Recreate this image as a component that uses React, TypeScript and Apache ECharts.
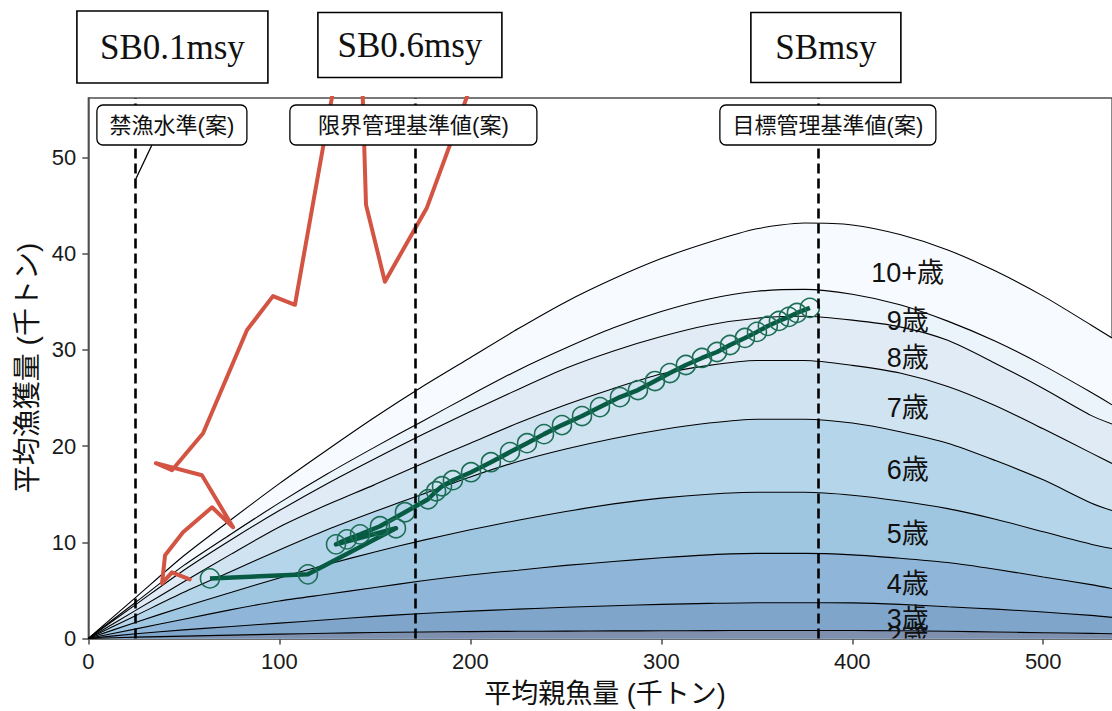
import React, { useEffect, useRef } from 'react';
import * as echarts from 'echarts';

// ---- data ----
const SB_GRID = [0, 25, 50, 75, 100, 125, 150, 175, 200, 225, 250, 275, 300, 325, 350, 375, 400, 425, 450, 475, 500, 525, 536];
// cumulative catch (top boundary of each age band)
const CUM_10PLUS = [0, 4.3, 8.6, 12.4, 16.1, 19.6, 23.0, 26.2, 29.2, 32.2, 35.0, 37.4, 39.5, 41.2, 42.6, 43.2, 43.0, 42.0, 40.4, 38.2, 35.6, 32.6, 31.25];
const CUM_9 = [0, 3.8, 7.6, 10.9, 14.1, 17.1, 19.9, 22.6, 25.3, 27.9, 30.2, 32.3, 34.0, 35.3, 36.1, 36.3, 35.8, 34.7, 33.0, 30.9, 28.4, 25.6, 24.3];
const CUM_8 = [0, 3.55, 7.1, 10.3, 13.3, 16.1, 18.7, 21.2, 23.6, 25.9, 28.1, 29.9, 31.4, 32.6, 33.3, 33.5, 33.1, 32.4, 31.0, 28.6, 26.0, 23.2, 22.3];
const CUM_7 = [0, 2.95, 5.9, 8.8, 11.6, 13.9, 16.0, 18.2, 20.3, 22.4, 24.3, 26.0, 27.5, 28.4, 28.9, 28.9, 28.4, 27.6, 26.2, 24.2, 21.8, 19.3, 18.2];
const CUM_6 = [0, 2.4, 4.8, 7.0, 9.2, 11.3, 13.2, 15.0, 16.8, 18.4, 19.7, 20.8, 21.7, 22.4, 22.8, 22.8, 22.4, 21.5, 20.3, 18.5, 16.5, 14.1, 13.3];
const CUM_5 = [0, 1.7, 3.3, 4.8, 6.3, 7.7, 9.0, 10.2, 11.3, 12.3, 13.2, 14.0, 14.6, 15.0, 15.2, 15.2, 14.9, 14.3, 13.5, 12.4, 11.1, 9.8, 9.35];
const CUM_4 = [0, 1.0, 2.0, 3.0, 3.9, 4.6, 5.3, 6.0, 6.6, 7.1, 7.6, 8.0, 8.4, 8.7, 8.85, 8.85, 8.7, 8.35, 7.9, 7.2, 6.4, 5.6, 5.2];
const CUM_3 = [0, 0.5, 0.9, 1.25, 1.6, 1.95, 2.3, 2.6, 2.85, 3.05, 3.25, 3.4, 3.55, 3.65, 3.72, 3.72, 3.7, 3.55, 3.3, 3.05, 2.75, 2.4, 2.2];
const CUM_2 = [0, 0.14, 0.25, 0.35, 0.45, 0.54, 0.62, 0.68, 0.72, 0.75, 0.77, 0.79, 0.8, 0.82, 0.83, 0.83, 0.83, 0.8, 0.75, 0.68, 0.6, 0.53, 0.5];
const AGE_NAMES = ['10+歳', '9歳', '8歳', '7歳', '6歳', '5歳', '4歳', '3歳', '2歳'];
const AGE_CUMS = [CUM_10PLUS, CUM_9, CUM_8, CUM_7, CUM_6, CUM_5, CUM_4, CUM_3, CUM_2];

// age label anchor (SB, catch)
const AGE_LABEL_SB = 429;
const AGE_LABEL_CATCH = [38.0, 33.0, 29.2, 24.0, 17.5, 10.9, 5.7, 2.05, 0.3];

// reference points
const SB_LIMIT_BAN = 24.4; // SB0.1msy
const SB_LIMIT = 171; // SB0.6msy
const SB_TARGET = 382; // SBmsy
const REF_NAMES = ['SB0.1msy', 'SB0.6msy', 'SBmsy'];
const REF_LABELS = ['禁漁水準(案)', '限界管理基準値(案)', '目標管理基準値(案)'];
const BAN_POINTER_CATCH = 47.8;

// historical trajectory (red)
const HIST_SB = [205.1, 189.4, 177.3, 155.3, 145.4, 142.8, 130.2, 108.2, 96.7, 83.1, 60.1, 43.8, 35.4, 59.5, 75.8, 64.8, 49.6, 40.2, 38.6, 43.8, 53.1];
const HIST_CATCH = [60.2, 51.35, 44.8, 37.1, 45.1, 62.3, 59.2, 34.7, 35.6, 32.08, 21.35, 17.5, 18.23, 16.98, 11.56, 13.65, 11.04, 8.65, 5.73, 6.875, 6.15];

// projection (green)
const PROJ_SB = [63.7, 115.0, 161.1, 129.7, 135.4, 142.3, 152.7, 165.8, 177.9, 182.1, 185.2, 190.9, 200.4, 210.8, 220.8, 229.7, 238.6, 248.0, 258.5, 267.9, 278.4, 287.8, 296.7, 304.5, 312.9, 321.3, 329.2, 336.0, 343.8, 350.1, 355.8, 361.6, 366.8, 371.0, 377.8];
const PROJ_CATCH = [6.25, 6.67, 11.46, 9.79, 10.31, 10.83, 11.67, 13.13, 14.48, 15.31, 15.83, 16.46, 17.29, 18.33, 19.38, 20.31, 21.25, 22.19, 23.13, 24.06, 25.1, 25.83, 26.77, 27.6, 28.44, 29.17, 29.79, 30.52, 31.25, 31.88, 32.5, 33.02, 33.44, 33.85, 34.38];

const X_TICKS = [0, 100, 200, 300, 400, 500];
const Y_TICKS = [0, 10, 20, 30, 40, 50];

// ---- styles ----
const BAND_COLORS = ['#f7fafe', '#ecf4fb', '#e0ebf5', '#cfe3f0', '#b5d5ea', '#9fc6e1', '#8fb5d9', '#7fa5cb', '#7f8fae'];
const SANS = "'Liberation Sans', 'Noto Sans CJK JP', sans-serif";
const SERIF = "'Liberation Serif', 'DejaVu Serif', serif";

export default function App() {
  const ref = useRef<HTMLDivElement>(null);
  useEffect(() => {
    document.body.style.margin = '0';
    const chart = echarts.init(ref.current!, null, { renderer: 'svg' });

    const bandSeries = AGE_CUMS.map((cum, i) => ({
      type: 'line',
      name: AGE_NAMES[i],
      data: SB_GRID.map((x, j) => [x, cum[j]]),
      showSymbol: false,
      smooth: 0.25,
      lineStyle: { color: '#000', width: 1.1 },
      areaStyle: { color: BAND_COLORS[i], opacity: 1 },
      z: 2,
      silent: true,
    }));

    const option: any = {
      animation: false,
      grid: { left: 88.3, right: 0, top: 98, bottom: 72.5, show: true, borderColor: '#4d4d4d', borderWidth: 1.3, backgroundColor: 'transparent' },
      xAxis: {
        type: 'value', min: 0, max: 536,
        splitLine: { show: false },
        axisLine: { show: true, onZero: false, lineStyle: { color: '#4d4d4d', width: 1.5 } },
        axisTick: { show: true, length: 6, customValues: X_TICKS, lineStyle: { color: '#4d4d4d', width: 1.5 } },
        axisLabel: { customValues: X_TICKS, fontSize: 22, color: '#1a1a1a', fontFamily: SANS, margin: 12, formatter: (v: number) => (v % 100 === 0 ? String(v) : '') },
      },
      yAxis: {
        type: 'value', min: 0, max: 56.2,
        splitLine: { show: false },
        axisLine: { show: true, onZero: false, lineStyle: { color: '#4d4d4d', width: 1.5 } },
        axisTick: { show: true, length: 6, customValues: Y_TICKS, lineStyle: { color: '#4d4d4d', width: 1.5 } },
        axisLabel: { customValues: Y_TICKS, fontSize: 22, color: '#1a1a1a', fontFamily: SANS, margin: 12, formatter: (v: number) => (v % 10 === 0 ? String(v) : '') },
      },
      series: [
        ...bandSeries,
        {
          type: 'line', data: [], silent: true, z: 3,
          markLine: {
            silent: true, symbol: ['none', 'none'], label: { show: false },
            lineStyle: { color: '#000', width: 2.6, type: [10, 5] },
            data: [{ xAxis: SB_LIMIT_BAN }, { xAxis: SB_LIMIT }, { xAxis: SB_TARGET }],
          },
        },
        {
          type: 'line', data: HIST_SB.map((x, i) => [x, HIST_CATCH[i]]), showSymbol: false, z: 4,
          lineStyle: { color: '#d35442', width: 4, cap: 'round', join: 'round' }, silent: true,
        },
        {
          type: 'line', data: PROJ_SB.map((x, i) => [x, PROJ_CATCH[i]]), z: 4,
          symbol: 'circle', symbolSize: 19, showSymbol: true,
          lineStyle: { color: '#075b43', width: 4.5, join: 'round' },
          itemStyle: { color: 'rgba(0,0,0,0)', borderColor: '#1d6e56', borderWidth: 1.6 },
          silent: true,
        },
        {
          type: 'custom', coordinateSystem: 'cartesian2d', clip: true, z: 5, silent: true,
          data: AGE_LABEL_CATCH.map((y, i) => [AGE_LABEL_SB, y, i]),
          renderItem: (params: any, api: any) => {
            const p = api.coord([api.value(0), api.value(1)]);
            return {
              type: 'text', x: p[0], y: p[1],
              style: { text: AGE_NAMES[api.value(2)], fontSize: 27, fontFamily: SANS, fill: '#111', align: 'center', verticalAlign: 'middle' },
            };
          },
        },
      ],
    };
    chart.setOption(option);

    const px = (v: number) => chart.convertToPixel({ xAxisIndex: 0 }, v) as number;
    const py = (v: number) => chart.convertToPixel({ yAxisIndex: 0 }, v) as number;
    const refX = [px(SB_LIMIT_BAN), px(SB_LIMIT), px(SB_TARGET)];

    const topBoxes = [
      { dx: 37.5, w: 191, h: 72, top: 11 },
      { dx: -5, w: 184, h: 65, top: 12.5 },
      { dx: 8, w: 150, h: 70, top: 12.5 },
    ];
    const labelBoxes = [
      { dx: 37, w: 150 },
      { dx: -1.5, w: 247 },
      { dx: 10, w: 216 },
    ];
    const graphics: any[] = [];
    graphics.push({
      type: 'line', z: 90, silent: true,
      shape: { x1: refX[0] + 17, y1: 145, x2: refX[0] + 1, y2: py(BAN_POINTER_CATCH) },
      style: { stroke: '#000', lineWidth: 1.3 },
    });
    topBoxes.forEach((b, i) => {
      const cx = refX[i] + b.dx;
      graphics.push({
        type: 'rect', z: 100, silent: true,
        shape: { x: cx - b.w / 2, y: b.top, width: b.w, height: b.h },
        style: { fill: '#fff', stroke: '#000', lineWidth: 1.6 },
      });
      graphics.push({
        type: 'text', z: 101, silent: true, x: cx, y: b.top + b.h / 2,
        style: { text: REF_NAMES[i], fontSize: 35, fontFamily: SERIF, fill: '#111', align: 'center', verticalAlign: 'middle' },
      });
    });
    labelBoxes.forEach((b, i) => {
      const cx = refX[i] + b.dx;
      graphics.push({
        type: 'rect', z: 100, silent: true,
        shape: { x: cx - b.w / 2, y: 105, width: b.w, height: 40, r: 6 },
        style: { fill: '#fff', stroke: '#000', lineWidth: 1.3 },
      });
      graphics.push({
        type: 'text', z: 101, silent: true, x: cx, y: 125.5,
        style: { text: REF_LABELS[i], fontSize: 22, fontFamily: SANS, fill: '#111', align: 'center', verticalAlign: 'middle' },
      });
    });
    graphics.push({
      type: 'text', z: 101, silent: true, x: 605, y: 694,
      style: { text: '平均親魚量 (千トン)', fontSize: 27, fontFamily: SANS, fill: '#111', align: 'center', verticalAlign: 'middle' },
    });
    graphics.push({
      type: 'text', z: 101, silent: true, x: 27, y: 368, rotation: Math.PI / 2,
      style: { text: '平均漁獲量 (千トン)', fontSize: 28, fontFamily: SANS, fill: '#111', align: 'center', verticalAlign: 'middle' },
    });
    chart.setOption({ graphic: graphics });

    return () => chart.dispose();
  }, []);
  return <div ref={ref} style={{ width: 1112, height: 711 }} />;
}
